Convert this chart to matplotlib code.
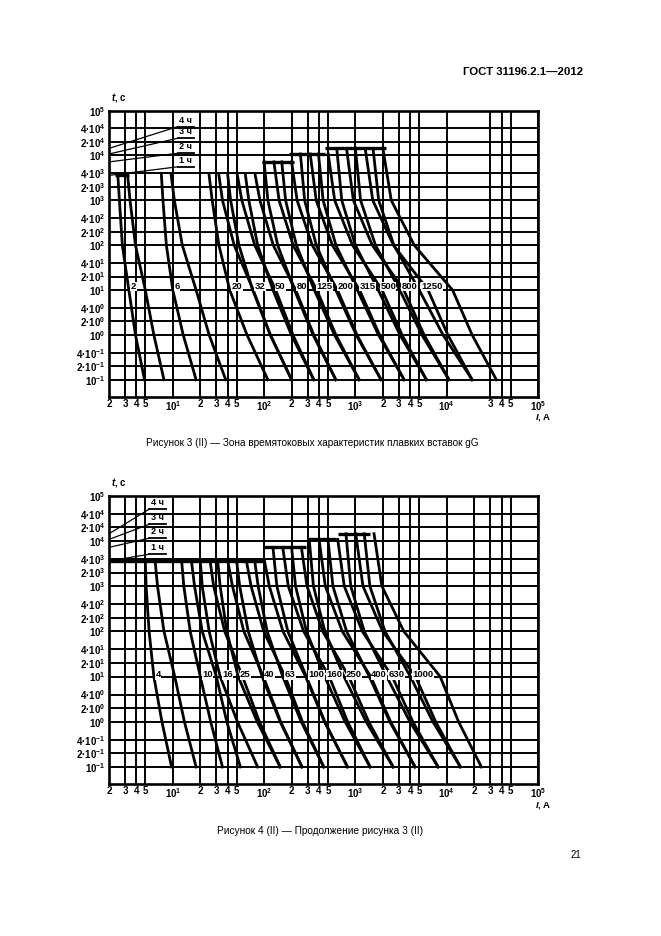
import matplotlib
matplotlib.use("Agg")
import matplotlib.pyplot as plt
from matplotlib.ticker import NullLocator

plt.rcParams['font.family'] = ['Liberation Sans', 'DejaVu Sans']
plt.rcParams['mathtext.fontset'] = 'custom'
plt.rcParams['mathtext.rm'] = 'Liberation Sans:bold'
plt.rcParams['mathtext.it'] = 'Liberation Sans:italic:bold'
plt.rcParams['mathtext.bf'] = 'Liberation Sans:bold'

# time points of every curve: conventional time, then 1000, 100, 10, 1, 0.1 s
time_levels = [1000, 100, 10, 1, 0.1]

# Рисунок 3 (II): ratings, conventional time (h), currents (A) of the zone borders
fig3_ratings = [2, 6, 20, 32, 50, 80, 125, 200, 315, 500, 800, 1250]
fig3_hours = [1, 1, 1, 1, 1, 2, 2, 3, 3, 4, 4, 4]
fig3_min = [
    [2.5, 2.6, 2.8, 3.3, 3.9, 4.9],
    [7.5, 7.8, 8.5, 10, 13, 18],
    [25, 27, 32, 42, 65, 110],
    [40, 43, 53, 75, 117, 200],
    [62.5, 68, 85, 125, 199, 350],
    [100, 110, 141, 215, 344, 610],
    [156, 172, 226, 355, 590, 1100],
    [250, 278, 373, 610, 1020, 1910],
    [394, 443, 612, 1050, 1790, 3420],
    [625, 709, 1000, 1780, 3080, 6000],
    [1000, 1140, 1660, 3060, 5360, 10600],
    [1560, 1800, 2640, 5000, 9120, 19000],
]
fig3_max = [
    [3.2, 3.4, 3.9, 5.0, 6.2, 8.0],
    [9.6, 10.4, 12.7, 18, 25, 38],
    [32, 35, 47, 76, 117, 200],
    [51, 57, 79, 134, 207, 350],
    [80, 90, 126, 222, 350, 610],
    [128, 146, 208, 378, 611, 1100],
    [200, 230, 337, 636, 1040, 1910],
    [320, 372, 560, 1110, 1840, 3420],
    [504, 593, 930, 1960, 3240, 6000],
    [800, 950, 1530, 3390, 5660, 10600],
    [1280, 1550, 2610, 6250, 10300, 19000],
    [2000, 2470, 4410, 11600, 19000, 35000],
]
# horizontal bars at the conventional times: (time s, from A, to A)
fig3_bars = [(3600, 2.3, 3.3), (7200, 95, 210), (10800, 187, 470), (14400, 470, 2150)]

# Рисунок 4 (II)
fig4_ratings = [4, 10, 16, 25, 40, 63, 100, 160, 250, 400, 630, 1000]
fig4_hours = [1, 1, 1, 1, 1, 1, 2, 2, 3, 3, 4, 4]
fig4_min = [
    [5, 5.1, 5.5, 6.2, 7.6, 9.7],
    [12.5, 13.2, 15.5, 20, 26, 35],
    [20, 21, 25, 33, 51, 85],
    [31, 33, 39, 52, 84, 150],
    [50, 54, 67, 95, 150, 260],
    [79, 86, 108, 160, 255, 450],
    [125, 138, 182, 290, 462, 820],
    [200, 221, 291, 460, 771, 1450],
    [312, 347, 463, 750, 1310, 2590],
    [500, 567, 800, 1420, 2380, 4500],
    [788, 890, 1250, 2200, 3950, 8060],
    [1250, 1440, 2110, 4000, 7060, 14140],
]
fig4_max = [
    [6.4, 6.8, 8.0, 10.5, 13.4, 18],
    [16, 17.3, 21, 30, 39, 55],
    [25.6, 28, 37, 58, 89, 150],
    [40, 45, 60, 98, 152, 260],
    [64, 72, 99, 170, 263, 450],
    [101, 114, 161, 285, 459, 820],
    [160, 184, 271, 516, 822, 1450],
    [256, 295, 438, 846, 1400, 2590],
    [400, 468, 718, 1470, 2430, 4500],
    [640, 755, 1190, 2530, 4260, 8060],
    [1008, 1210, 1990, 4550, 7570, 14140],
    [1600, 1950, 3390, 8480, 13500, 24000],
]
fig4_bars = [(3600, 2, 100), (7200, 100, 290), (10800, 300, 620), (14400, 640, 1450)]

# leader labels "1 ч".."4 ч": start time at the axis, end of the leader (A, s)
hour_names = ['1 ч', '2 ч', '3 ч', '4 ч']
hour_times = [3600, 7200, 10800, 14400]
fig3_leader_t = [5600, 11200, 24200, 44000]
fig3_leader_x = (11.3, 17)
fig4_leader_t = [5080, 11500, 23400, 50800]
fig4_leader_x = (5.54, 8.5)

# grid and ticks
y_grid = [1e5, 4e4, 2e4, 1e4, 4e3, 2e3, 1e3, 4e2, 2e2, 1e2, 4e1, 2e1, 1e1,
          4, 2, 1, 0.4, 0.2, 0.1]
y_labels = ['10$^{5}$', '4·10$^{4}$', '2·10$^{4}$', '10$^{4}$', '4·10$^{3}$',
            '2·10$^{3}$', '10$^{3}$', '4·10$^{2}$', '2·10$^{2}$', '10$^{2}$',
            '4·10$^{1}$', '2·10$^{1}$', '10$^{1}$', '4·10$^{0}$', '2·10$^{0}$',
            '10$^{0}$', '4·10$^{-1}$', '2·10$^{-1}$', '10$^{-1}$']
x_grid3 = [2, 3, 4, 5, 10, 20, 30, 40, 50, 100, 200, 300, 400, 500,
           1000, 2000, 3000, 4000, 5000, 1e4, 3e4, 4e4, 5e4, 1e5]
x_labels3 = ['2', '3', '4', '5', '10$^{1}$', '2', '3', '4', '5', '10$^{2}$',
             '2', '3', '4', '5', '10$^{3}$', '2', '3', '4', '5', '10$^{4}$',
             '3', '4', '5', '10$^{5}$']
x_grid4 = [2, 3, 4, 5, 10, 20, 30, 40, 50, 100, 200, 300, 400, 500,
           1000, 2000, 3000, 4000, 5000, 1e4, 2e4, 3e4, 4e4, 5e4, 1e5]
x_labels4 = ['2', '3', '4', '5', '10$^{1}$', '2', '3', '4', '5', '10$^{2}$',
             '2', '3', '4', '5', '10$^{3}$', '2', '3', '4', '5', '10$^{4}$',
             '2', '3', '4', '5', '10$^{5}$']


def draw_chart(ax, ratings, hours, cur_min, cur_max, bars, x_grid, x_labels,
               leader_t, leader_x, label_t, ilabel_y):
    ax.set_xscale('log')
    ax.set_yscale('log')
    ax.set_xlim(2, 1e5)
    ax.set_ylim(0.042, 1e5)
    for v in x_grid:
        ax.axvline(v, color='black', lw=1.4, zorder=1)
    for v in y_grid:
        ax.axhline(v, color='black', lw=1.4, zorder=1)
    for i in range(len(ratings)):
        t = [hours[i] * 3600] + time_levels
        ax.plot(cur_min[i], t, color='black', lw=2.0, zorder=2)
        ax.plot(cur_max[i], t, color='black', lw=2.0, zorder=2)
        ax.text(cur_min[i][3] * 1.05, label_t, str(ratings[i]), fontsize=6.8,
                fontweight='bold', ha='left', va='center', zorder=4,
                bbox=dict(fc='white', ec='none', pad=0.3))
    for t, a, b in bars:
        ax.plot([a, b], [t, t], color='black', lw=2.4, zorder=3,
                solid_capstyle='butt')
    for k in range(4):
        ax.plot([2, leader_x[0]], [hour_times[k], leader_t[k]], color='black',
                lw=0.9, zorder=3)
        ax.plot([leader_x[0], leader_x[1]], [leader_t[k], leader_t[k]],
                color='black', lw=1.3, zorder=3)
        ax.text((leader_x[0] * leader_x[1]) ** 0.5, leader_t[k] * 1.1,
                hour_names[k], fontsize=6.6, fontweight='bold', ha='center',
                va='bottom', zorder=4)
    ax.set_xticks(x_grid)
    ax.set_xticklabels(x_labels)
    ax.set_yticks(y_grid)
    ax.set_yticklabels(y_labels)
    ax.xaxis.set_minor_locator(NullLocator())
    ax.yaxis.set_minor_locator(NullLocator())
    ax.tick_params(length=0, labelsize=7)
    ax.tick_params(axis='x', pad=1.5)
    ax.tick_params(axis='y', pad=2.5)
    for lab in ax.get_xticklabels() + ax.get_yticklabels():
        lab.set_fontweight('bold')
    for s in ax.spines.values():
        s.set_linewidth(1.9)
        s.set_zorder(5)
    ax.text(0.005, 1.047, '$t$, с', transform=ax.transAxes, fontsize=7,
            fontweight='bold', ha='left', va='center')
    ax.text(1.012, ilabel_y, '$I$, А', transform=ax.transAxes, fontsize=6.8,
            fontweight='bold', ha='center', va='center')


fig = plt.figure(figsize=(6.61, 9.36), dpi=100)
ax3 = fig.add_axes([0.1649, 0.5762, 0.6490, 0.3056])
ax4 = fig.add_axes([0.1649, 0.1624, 0.6490, 0.3080])

draw_chart(ax3, fig3_ratings, fig3_hours, fig3_min, fig3_max, fig3_bars,
           x_grid3, x_labels3, fig3_leader_t, fig3_leader_x, 12, -0.074)
draw_chart(ax4, fig4_ratings, fig4_hours, fig4_min, fig4_max, fig4_bars,
           x_grid4, x_labels4, fig4_leader_t, fig4_leader_x, 11, -0.074)

fig.text(583 / 661, 1 - 72 / 936, 'ГОСТ 31196.2.1—2012', fontsize=8.2,
         fontweight='bold', ha='right', va='center')
fig.text(312 / 661, 1 - 443 / 936,
         'Рисунок 3 (II) — Зона времятоковых характеристик плавких вставок gG',
         fontsize=7.2, ha='center', va='center')
fig.text(320 / 661, 1 - 831 / 936, 'Рисунок 4 (II) — Продолжение рисунка 3 (II)',
         fontsize=7.3, ha='center', va='center')
fig.text(576 / 661, 1 - 855 / 936, '21', fontsize=7, ha='center', va='center')

fig.savefig('out.png', dpi=100)
